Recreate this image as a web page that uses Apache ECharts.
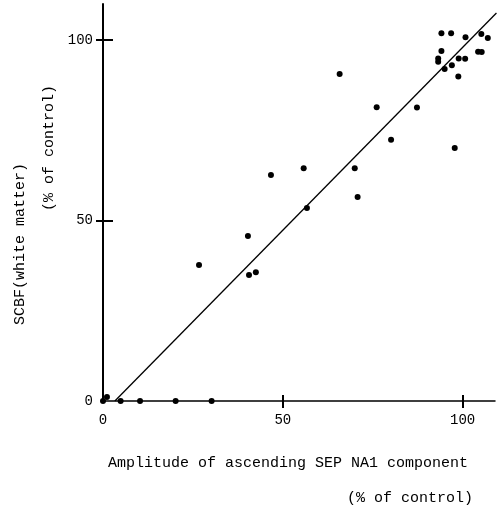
<!DOCTYPE html>
<html><head><meta charset="utf-8">
<script src="https://cdn.jsdelivr.net/npm/echarts@6/dist/echarts.min.js"></script>
<style>html,body{margin:0;padding:0;background:#fff}#c{width:499px;height:512px}</style>
</head><body><div id="c"></div>
<script>
var ampX = [0,1.1,4.9,10.3,20.2,30.2,26.7,40.3,40.6,42.5,46.7,55.8,56.7,65.8,70,70.8,76.1,80.1,87.3,97.8,94.1,96.8,100.8,105.2,107.0,94.1,93.2,93.2,98.9,100.7,97.0,95.0,98.8,104.3,105.3];
var scbfY = [0,1.1,0,0,0,0,37.7,45.7,34.9,35.7,62.6,64.5,53.5,90.6,64.5,56.5,81.4,72.4,81.3,70.1,101.9,101.9,100.8,101.7,100.6,97.0,94.9,94.0,94.9,94.8,93.0,92.0,89.9,96.8,96.7];
var fitX = [3.3,109.4];
var fitY = [0,107.5];
var xTicks = [0,50,100];
var yTicks = [0,50,100];
var xTitle = ['Amplitude of ascending SEP NA1 component','(% of control)'];
var yTitle = ['SCBF(white matter)','(% of control)'];

var pts = ampX.map(function(x,i){return [x,scbfY[i]];});
var fit = fitX.map(function(x,i){return [x,fitY[i]];});
var FONT = '"Liberation Mono", "DejaVu Sans Mono", monospace';
var chart = echarts.init(document.getElementById('c'));
function xAx(inside, show){
  return {type:'value',min:0,max:109,position:'bottom',
    axisLine:{show:show,onZero:false,lineStyle:{color:'#000',width:1.5}},
    splitLine:{show:false},
    axisTick:{show:true,inside:inside,length:inside?6:7,customValues:[50,100],lineStyle:{color:'#000',width:2}},
    axisLabel:{show:show,customValues:xTicks,margin:12,color:'#000',fontSize:14,fontFamily:FONT}};
}
function yAx(inside, show){
  return {type:'value',min:0,max:110,position:'left',
    axisLine:{show:show,onZero:false,lineStyle:{color:'#000',width:2}},
    splitLine:{show:false},
    axisTick:{show:true,inside:inside,length:inside?10:7,customValues:[50,100],lineStyle:{color:'#000',width:2}},
    axisLabel:{show:show,customValues:yTicks,margin:10,color:'#000',fontSize:14,fontFamily:FONT}};
}
chart.setOption({
  animation:false,
  backgroundColor:'#fff',
  grid:{left:103,top:4,width:392,height:397},
  xAxis:[xAx(false,true),xAx(true,false)],
  yAxis:[yAx(false,true),yAx(true,false)],
  series:[
    {type:'line',data:fit,xAxisIndex:0,yAxisIndex:0,showSymbol:false,symbol:'none',lineStyle:{color:'#000',width:1.3},z:2},
    {type:'scatter',data:pts,xAxisIndex:0,yAxisIndex:0,symbolSize:6,itemStyle:{color:'#000',opacity:1},z:3}
  ],
  graphic:[
    {type:'text',x:288,y:463,style:{text:xTitle[0],font:'15px '+FONT,fill:'#000',align:'center',verticalAlign:'middle'}},
    {type:'text',x:410,y:498,style:{text:xTitle[1],font:'15px '+FONT,fill:'#000',align:'center',verticalAlign:'middle'}},
    {type:'text',x:20,y:244,rotation:Math.PI/2,style:{text:yTitle[0],font:'15px '+FONT,fill:'#000',align:'center',verticalAlign:'middle'}},
    {type:'text',x:49,y:148,rotation:Math.PI/2,style:{text:yTitle[1],font:'15px '+FONT,fill:'#000',align:'center',verticalAlign:'middle'}}
  ]
});
</script></body></html>
